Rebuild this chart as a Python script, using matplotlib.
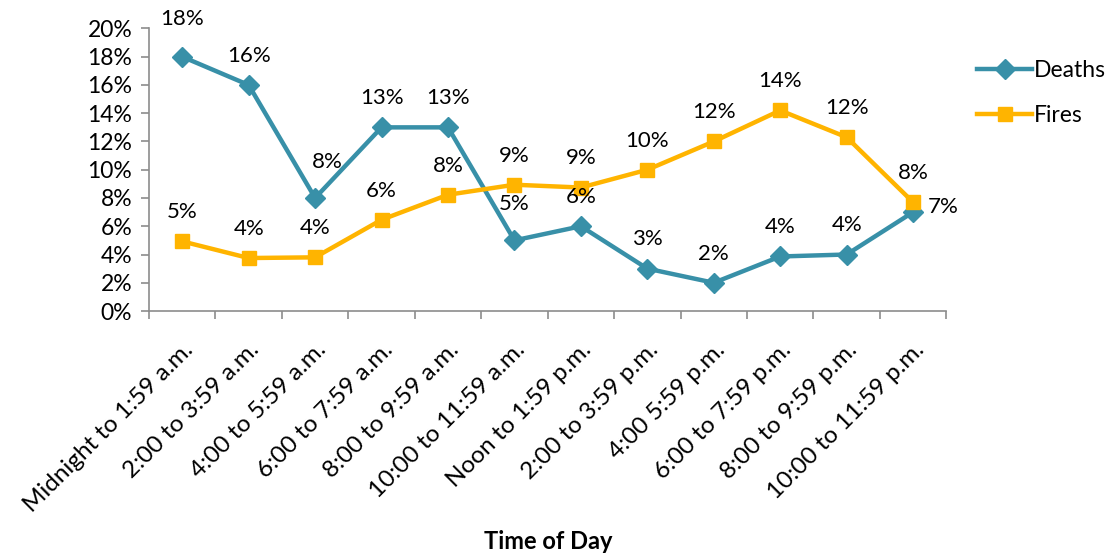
import matplotlib
matplotlib.use("Agg")
import matplotlib.pyplot as plt
import numpy as np

# time-of-day buckets
categories = ["Midnight to 1:59 a.m.", "2:00 to 3:59 a.m.", "4:00 to 5:59 a.m.",
              "6:00 to 7:59 a.m.", "8:00 to 9:59 a.m.", "10:00 to 11:59 a.m.",
              "Noon to 1:59 p.m.", "2:00 to 3:59 p.m.", "4:00 5:59 p.m.",
              "6:00 to 7:59 p.m.", "8:00 to 9:59 p.m.", "10:00 to 11:59 p.m."]
deaths = [18, 16, 8, 13, 13, 5, 6, 3, 2, 3.86, 4, 7]
fires = [4.93, 3.75, 3.8, 6.46, 8.23, 8.94, 8.74, 10, 12, 14.2, 12.3, 7.7]
deaths_labels = ["18%", "16%", "8%", "13%", "13%", "5%", "6%", "3%", "2%", "4%", "4%", "7%"]
fires_labels = ["5%", "4%", "4%", "6%", "8%", "9%", "9%", "10%", "12%", "14%", "12%", "8%"]
y_ticks = [0, 2, 4, 6, 8, 10, 12, 14, 16, 18, 20]

plt.rcParams['font.family'] = ['Lato', 'DejaVu Sans']

deaths_col = "#3890A8"
fires_col = "#FFB400"
axis_col = "#8C8C8C"

# label offsets (points) where excel moved them off the default spot
deaths_off = {0: (0, 27), 2: (9, 26), 5: (0, 26), 11: (22, 4)}
default_off = (0, 21)

fig = plt.figure(figsize=(11.12, 5.54), dpi=100)
ax = fig.add_axes([0.134, 0.4386, 0.717, 0.51])

x = np.arange(len(categories)) + 0.5
ax.plot(x, deaths, color=deaths_col, lw=3.2, marker="D", ms=10, label="Deaths", zorder=3)
ax.plot(x, fires, color=fires_col, lw=3.2, marker="s", ms=9.5, label="Fires", zorder=3)

for i, (xv, yv) in enumerate(zip(x, deaths)):
    ax.annotate(deaths_labels[i], (xv, yv), xytext=deaths_off.get(i, default_off),
                textcoords="offset points", ha="center", va="center", fontsize=16)
for i, (xv, yv) in enumerate(zip(x, fires)):
    ax.annotate(fires_labels[i], (xv, yv), xytext=default_off, textcoords="offset points",
                ha="center", va="center", fontsize=16)

ax.set_xlim(0, len(categories))
ax.set_ylim(0, 20)
ax.set_yticks(y_ticks)
ax.set_yticklabels([f"{v}%" for v in y_ticks], fontsize=16.5)
ax.set_xticks(x)
ax.set_xticklabels(categories, rotation=45, ha="right", rotation_mode="anchor", fontsize=17.5)
ax.set_xticks(np.arange(len(categories) + 1), minor=True)
ax.tick_params(axis="x", which="major", length=0, pad=20)
ax.tick_params(axis="x", which="minor", length=6, color=axis_col, width=1.2)
ax.tick_params(axis="y", length=6, color=axis_col, width=1.2, pad=6)

for s in ["top", "right"]:
    ax.spines[s].set_visible(False)
for s in ["left", "bottom"]:
    ax.spines[s].set_color(axis_col)
    ax.spines[s].set_linewidth(1.2)

# axis title sits below the rotated labels
fig.text(0.493, 0.022, "Time of Day", fontsize=17, fontweight="bold", ha="center", va="center")

ax.legend(loc="upper left", bbox_to_anchor=(1.027, 0.92), frameon=False, fontsize=16.5,
          handlelength=2.4, labelspacing=1.05, handletextpad=0.1, borderaxespad=0)

fig.savefig("out.png", dpi=100)
